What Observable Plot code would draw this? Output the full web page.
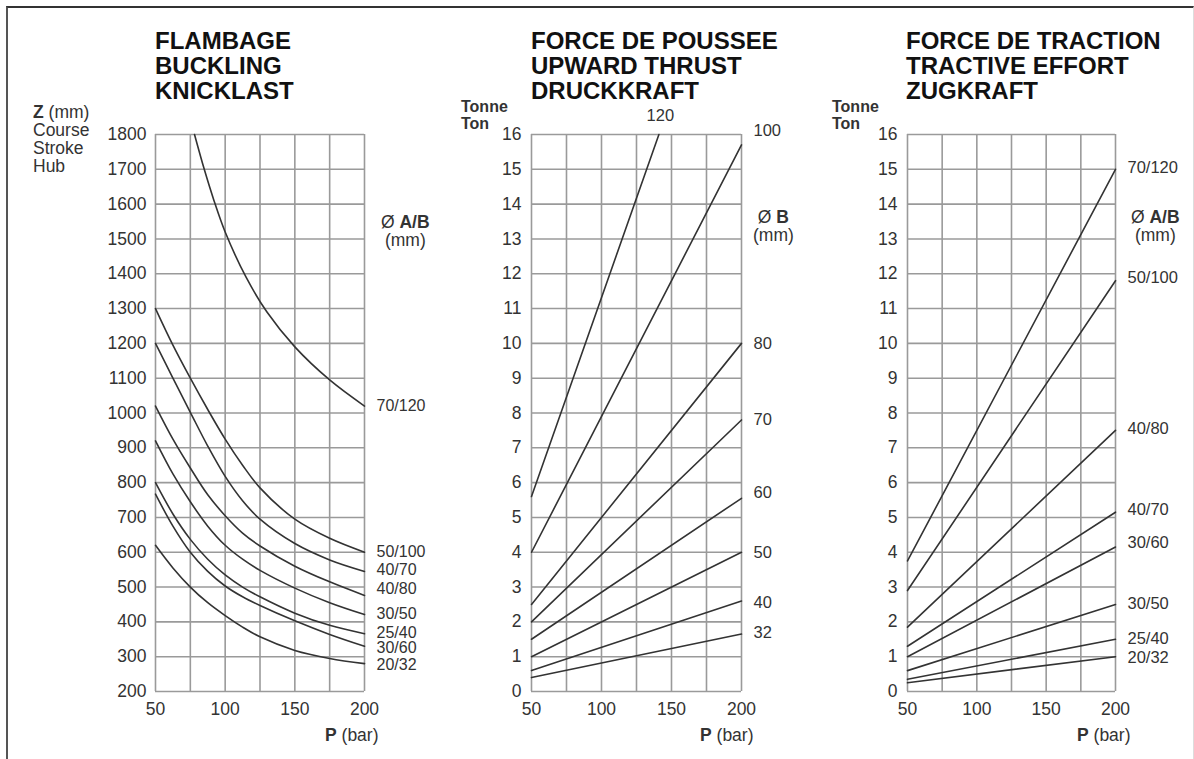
<!DOCTYPE html>
<html><head><meta charset="utf-8">
<script src="https://cdn.jsdelivr.net/npm/d3@7"></script>
<script src="https://cdn.jsdelivr.net/npm/@observablehq/plot@0.6"></script>
<style>
body{margin:0;background:#fff;font-family:"Liberation Sans",Arial,Helvetica,sans-serif;color:#222;}
#page{position:relative;width:1194px;height:759px;overflow:hidden;background:#fff;}
.abs{position:absolute;white-space:nowrap;}
.title{font-weight:bold;font-size:24px;line-height:25px;color:#111;}
.lab{font-size:17.5px;line-height:18px;color:#333;}
.plot{position:absolute;top:0;}
#frame{position:absolute;left:6px;top:6px;width:1185px;height:770px;border-top:2px solid #333;border-left:2px solid #555;border-right:1px solid #ddd;}
</style></head><body><div id="page"><div id="frame"></div></div>
<script>
// ---------- shared axes ----------
const pressureTicks = [50, 100, 150, 200];
const pressureGrid = [50, 75, 100, 125, 150, 175, 200];
const strokeTicks = [200,300,400,500,600,700,800,900,1000,1100,1200,1300,1400,1500,1600,1700,1800];
const tonTicks = [0,1,2,3,4,5,6,7,8,9,10,11,12,13,14,15,16];

// ---------- Panel 1 : FLAMBAGE / BUCKLING (Z mm vs P bar) ----------
const bucklingSeries = ["70/120","50/100","40/70","40/80","30/50","25/40","30/60","20/32"];
const bucklingP_70_120 = [78, 85, 92, 100, 115, 130, 150, 175, 200];
const bucklingP = [50, 62.5, 75, 87.5, 100, 112.5, 125, 150, 175, 200];
const bucklingZ = [
  [1800, 1700, 1610, 1520, 1390, 1290, 1190, 1095, 1020],
  [1300, 1195, 1100, 1010, 925, 850, 785, 695, 640, 600],
  [1200, 1100, 1002, 905, 818, 748, 695, 625, 578, 545],
  [1020, 925, 842, 765, 705, 655, 618, 560, 515, 476],
  [920, 825, 745, 675, 620, 580, 548, 497, 455, 421],
  [800, 710, 637, 580, 535, 500, 472, 425, 390, 366],
  [767, 675, 600, 545, 503, 472, 447, 403, 364, 330],
  [620, 555, 500, 455, 418, 385, 357, 318, 295, 280]
];
const bucklingLabelZ = [1021, 602, 550, 495, 424, 369, 326, 277];

// ---------- Panel 2 : FORCE DE POUSSEE / UPWARD THRUST (t vs P bar) ----------
const thrustSeries = ["120","100","80","70","60","50","40","32"];
const thrustP = [[50, 141],[50, 200],[50, 200],[50, 200],[50, 200],[50, 200],[50, 200],[50, 200]];
const thrustT = [[5.6, 16],[4.0, 15.7],[2.5, 10.0],[2.0, 7.8],[1.5, 5.55],[1.0, 4.0],[0.6, 2.6],[0.4, 1.65]];
const thrustLabelT = [null, 16.1, 10.0, 7.8, 5.7, 4.0, 2.54, 1.7];
const thrustTopLabel = {text: "120", p: 142, t: 16.55};

// ---------- Panel 3 : FORCE DE TRACTION / TRACTIVE EFFORT (t vs P bar) ----------
const tractionSeries = ["70/120","50/100","40/80","40/70","30/60","30/50","25/40","20/32"];
const tractionP = [50, 200];
const tractionT = [[3.75, 15.0],[2.9, 11.8],[1.85, 7.5],[1.3, 5.15],[1.0, 4.15],[0.6, 2.5],[0.35, 1.5],[0.25, 1.0]];
const tractionLabelT = [15.05, 11.88, 7.54, 5.21, 4.26, 2.53, 1.52, 0.98];

// ---------- helpers ----------
const FONT = '"Liberation Sans", Arial, Helvetica, sans-serif';
const page = document.getElementById("page");
function addDiv(html, cls, left, top, extra) {
  const d = document.createElement("div");
  d.className = "abs " + cls;
  d.innerHTML = html;
  d.style.left = left + "px";
  d.style.top = top + "px";
  if (extra) Object.assign(d.style, extra);
  page.appendChild(d);
  return d;
}
const gridStyle = {stroke: "#9a9a9a", strokeOpacity: 1, strokeWidth: 1.6};
const lineStyle = {stroke: "#333", strokeWidth: 1.6};

function panel({left, width, ml, mr, yDomain, yTicks, ytp, rows, curve, labels, labelSize, extra}) {
  const svg = Plot.plot({
    width, height: 759,
    marginLeft: ml, marginRight: mr, marginTop: 134, marginBottom: 68,
    style: {fontFamily: FONT, fontSize: "17.5px", color: "#333", background: "transparent", overflow: "visible"},
    x: {domain: [50, 200], ticks: pressureTicks, tickSize: 0, tickPadding: 11, tickFormat: d => String(d), label: null},
    y: {domain: yDomain, ticks: yTicks, tickSize: 0, tickPadding: ytp, tickFormat: d => String(d), label: null},
    marks: [
      Plot.gridX(pressureGrid, gridStyle),
      Plot.gridY(yTicks, gridStyle),
      Plot.line(rows, {x: "p", y: "v", z: "series", curve, ...lineStyle}),
      Plot.text(labels, {x: () => 200, y: "v", text: "label", textAnchor: "start", dx: 12, fontSize: labelSize || 16.5, fill: "#333"}),
      ...(extra || [])
    ]
  });
  svg.classList.add("plot");
  svg.style.left = left + "px";
  page.appendChild(svg);
}

// Panel 1 rows
const bRows = [];
bucklingSeries.forEach((s, i) => {
  const ps = i === 0 ? bucklingP_70_120 : bucklingP;
  ps.forEach((p, j) => bRows.push({series: s, p, v: bucklingZ[i][j]}));
});
const bLabels = bucklingSeries.map((s, i) => ({label: s, v: bucklingLabelZ[i]}));
panel({left: 0, width: 420, ml: 155, mr: 56, yDomain: [200, 1800], yTicks: strokeTicks, ytp: 9,
  rows: bRows, curve: "catmull-rom", labels: bLabels, labelSize: 16});

// Panel 2 rows
const tRows = [];
thrustSeries.forEach((s, i) => thrustP[i].forEach((p, j) => tRows.push({series: s, p, v: thrustT[i][j]})));
const tLabels = thrustSeries.map((s, i) => ({label: s, v: thrustLabelT[i]})).filter(d => d.v != null);
panel({left: 420, width: 400, ml: 111, mr: 79, yDomain: [0, 16], yTicks: tonTicks, ytp: 10,
  rows: tRows, curve: "linear", labels: tLabels,
  extra: [Plot.text([thrustTopLabel], {x: "p", y: "t", text: "text", fontSize: 16.5, fill: "#333"})]});

// Panel 3 rows
const rRows = [];
tractionSeries.forEach((s, i) => tractionP.forEach((p, j) => rRows.push({series: s, p, v: tractionT[i][j]})));
const rLabels = tractionSeries.map((s, i) => ({label: s, v: tractionLabelT[i]}));
panel({left: 820, width: 374, ml: 87, mr: 79, yDomain: [0, 16], yTicks: tonTicks, ytp: 10,
  rows: rRows, curve: "linear", labels: rLabels});

// ---------- titles ----------
addDiv("FLAMBAGE<br>BUCKLING<br>KNICKLAST", "title", 155, 28);
addDiv("FORCE DE POUSSEE<br>UPWARD THRUST<br>DRUCKKRAFT", "title", 531, 28);
addDiv("FORCE DE TRACTION<br>TRACTIVE EFFORT<br>ZUGKRAFT", "title", 906, 28);

// ---------- axis captions ----------
addDiv("<b>Z</b> (mm)<br>Course<br>Stroke<br>Hub", "lab", 33, 103);
addDiv("<b>Tonne<br>Ton</b>", "lab", 461, 98, {fontSize: "16px", lineHeight: "17px"});
addDiv("<b>Tonne<br>Ton</b>", "lab", 832, 98, {fontSize: "16px", lineHeight: "17px"});
addDiv("<b>P</b> (bar)", "lab", 325, 726);
addDiv("<b>P</b> (bar)", "lab", 700, 726);
addDiv("<b>P</b> (bar)", "lab", 1077, 726);
addDiv("Ø <b>A/B</b><br>(mm)", "lab", 381, 213, {textAlign: "center"});
addDiv("Ø <b>B</b><br>(mm)", "lab", 753, 208, {textAlign: "center"});
addDiv("Ø <b>A/B</b><br>(mm)", "lab", 1131, 208, {textAlign: "center"});
</script></body></html>
